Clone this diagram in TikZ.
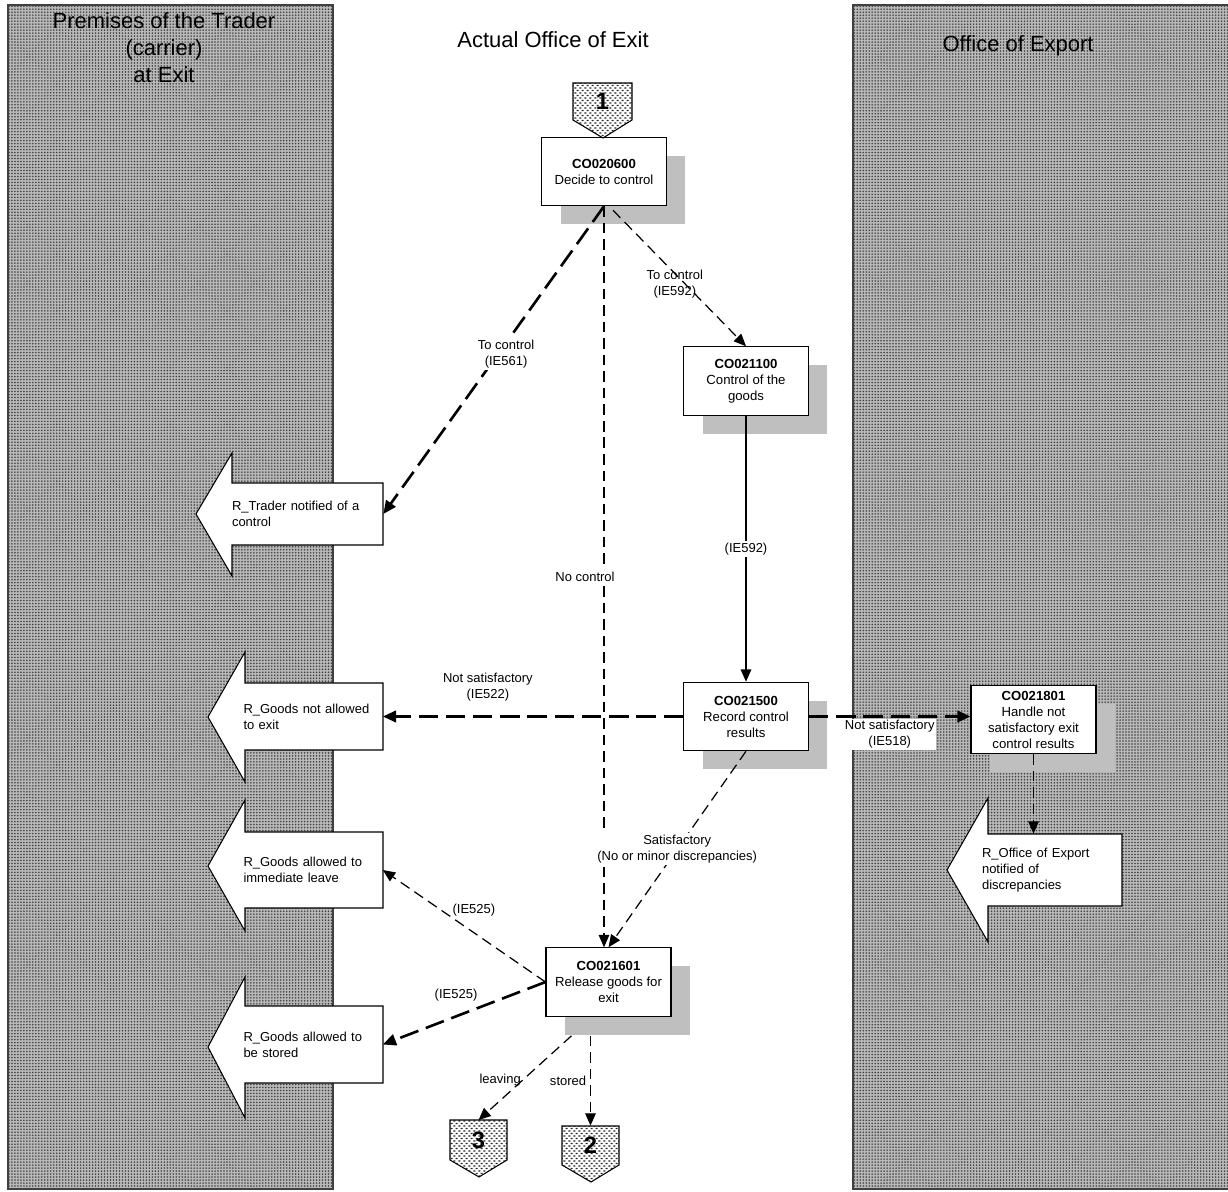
\documentclass[tikz,border=0pt]{standalone}
\usepackage{fontspec}
\setmainfont{Liberation Sans}
\usetikzlibrary{positioning,calc,arrows.meta,patterns,shadows}

\pgfdeclarepatternformonly{lanedots}{\pgfqpoint{-0.85pt}{-0.85pt}}{\pgfqpoint{0.85pt}{0.85pt}}{\pgfqpoint{1.7pt}{1.7pt}}{%
  \pgfpathcircle{\pgfpointorigin}{0.5pt}\pgfusepath{fill}}
\pgfdeclarepatternformonly{brickdots}{\pgfqpoint{0pt}{0pt}}{\pgfqpoint{3pt}{3pt}}{\pgfqpoint{3pt}{3pt}}{%
  \pgfpathrectangle{\pgfqpoint{0.2pt}{0.3pt}}{\pgfqpoint{1.3pt}{0.8pt}}%
  \pgfpathrectangle{\pgfqpoint{1.7pt}{1.8pt}}{\pgfqpoint{1.3pt}{0.8pt}}\pgfusepath{fill}}

\tikzset{
  lane/.style={draw=black!75, line width=0.8pt, preaction={fill=black!28}, pattern=lanedots, pattern color=black!75},
  lanetitle/.style={font=\fontsize{12.5}{15.3}\selectfont, align=center, inner sep=1pt},
  procbox/.style={draw, line width=0.6pt, fill=white, minimum width=2.5cm, minimum height=1.37cm,
    align=center, inner sep=1pt, font=\fontsize{7.5}{9.1}\selectfont,
    drop shadow={shadow xshift=0.38cm, shadow yshift=-0.37cm, fill=black!25, opacity=1}},
  bigarrow/.style={draw, line width=0.6pt, fill=white},
  arrowtext/.style={align=left, inner sep=0pt, font=\fontsize{7.4}{9.2}\selectfont},
  offpage/.style={draw, line width=0.6pt, preaction={fill=white}, pattern=brickdots, pattern color=black!85},
  offnum/.style={font=\fontsize{13.5}{14}\selectfont\bfseries, minimum width=1.16cm, minimum height=0.78cm, inner sep=0pt},
  flowlabel/.style={font=\fontsize{7.4}{9.1}\selectfont, align=center, inner sep=1pt},
  thinflow/.style={line width=0.7pt, dash pattern=on 6pt off 3.4pt, -{Triangle[length=7pt,width=6pt]}},
  thickflow/.style={line width=1.5pt, dash pattern=on 11pt off 4.5pt, -{Triangle[length=7.5pt,width=6.5pt]}},
  solidflow/.style={line width=0.7pt, -{Triangle[length=7pt,width=6pt]}},
}

\begin{document}
\begin{tikzpicture}[x=0.02cm, y=-0.02cm]
\useasboundingbox (0,0) rectangle (1228,1192);

% swim lanes
\draw[lane] (8,5) rectangle (333,1189);
\draw[lane] (853,5) rectangle (1240,1189);
\node[lanetitle] (ttrader) at (164,48) {Premises of the Trader\\(carrier)\\at Exit};
\node[lanetitle] (texit) at (553,40) {Actual Office of Exit};
\node[lanetitle] (texport) at (1018,46) {Office of Export};

% process boxes
\node[procbox] (c600) at (604,171.5) {\textbf{CO020600}\\Decide to control};
\node[procbox] (c1100) at (746,381) {\textbf{CO021100}\\Control of the\\goods};
\node[procbox] (c1500) at (746,716.5) {\textbf{CO021500}\\Record control\\results};
\node[procbox] (c1801) at (1033.5,719.5) {\textbf{CO021801}\\Handle not\\satisfactory exit\\control results};
\node[procbox] (c1601) at (608.5,982) {\textbf{CO021601}\\Release goods for\\exit};

% result arrows
\draw[bigarrow] (383,483) -- (232,483) -- (232,453) -- (196,514) -- (232,576) -- (232,545) -- (383,545) -- cycle;
\node[arrowtext, text width=3.02cm, minimum height=1.24cm] (rtrader) at (307.5,514) {R\_Trader notified of a\\control};
\draw[bigarrow] (383,683) -- (245,683) -- (245,652) -- (208,717) -- (245,782) -- (245,750) -- (383,750) -- cycle;
\node[arrowtext, text width=2.78cm, minimum height=1.34cm] (rgoodsno) at (313,716.5) {R\_Goods not allowed\\to exit};
\draw[bigarrow] (383,832) -- (245,832) -- (245,800) -- (208,866) -- (245,931) -- (245,908) -- (383,908) -- cycle;
\node[arrowtext, text width=2.78cm, minimum height=1.52cm] (rgoodslv) at (313,870) {R\_Goods allowed to\\immediate leave};
\draw[bigarrow] (383,1006) -- (245,1006) -- (245,977) -- (208,1047) -- (245,1118) -- (245,1083) -- (383,1083) -- cycle;
\node[arrowtext, text width=2.78cm, minimum height=1.54cm] (rgoodsst) at (313,1044.5) {R\_Goods allowed to\\be stored};
\draw[bigarrow] (1122,834) -- (988,834) -- (988,798) -- (947,870) -- (988,942) -- (988,906) -- (1122,906) -- cycle;
\node[arrowtext, text width=2.8cm, minimum height=1.44cm] (roffice) at (1052,870) {R\_Office of Export\\notified of\\discrepancies};

% off-page connectors
\draw[offpage] (573,83) -- (632,83) -- (632,120) -- (603,138) -- (573,120) -- cycle;
\node[offnum] (conn1) at (602.5,101.5) {1};
\draw[offpage] (450,1120) -- (507,1120) -- (507,1160) -- (479,1177) -- (450,1160) -- cycle;
\node[offnum] (conn3) at (478.5,1140) {3};
\draw[offpage] (562,1126) -- (619,1126) -- (619,1165) -- (591,1182) -- (562,1165) -- cycle;
\node[offnum] (conn2) at (590.5,1145.5) {2};

% flows
\draw[thickflow] (c600.south) -- node[flowlabel, fill=white, pos=0.48, xshift=0.16cm] (l561) {To control\\(IE561)} (rtrader.east);
\draw[thinflow] ($(c600.south)+(9,4)$) -- node[flowlabel, pos=0.54, xshift=-0.2cm] (l592a) {To control\\(IE592)} (c1100.north);
\draw[thinflow] (c600.south) -- node[flowlabel, fill=white, pos=0.5, xshift=-0.38cm] (lnoctrl) {No control} (c600.south |- c1601.north);
\draw[solidflow] (c1100.south) -- node[flowlabel, fill=white] (l592b) {(IE592)} (c1500.north);
\draw[thickflow] (c1500.west) -- node[flowlabel, pos=0.65, above=0.24cm] (l522) {Not satisfactory\\(IE522)} (rgoodsno.east);
\draw[thickflow] (c1500.east) -- node[flowlabel, fill=white, pos=0.5, below=0.02cm] (l518) {Not satisfactory\\(IE518)} (c1500.east -| c1801.west);
\draw[thinflow] (c1500.south) -- node[flowlabel, fill=white, pos=0.5] (lsat) {Satisfactory\\(No or minor discrepancies)} (c1601.north);
\draw[thinflow] (c1601.west) -- node[flowlabel, pos=0.44, yshift=0.46cm] (l525a) {(IE525)} (rgoodslv.east);
\draw[thickflow] (c1601.west) -- node[flowlabel, pos=0.55, yshift=0.42cm] (l525b) {(IE525)} (rgoodsst.east);
\draw[thinflow] (c1801.south) -- (c1801.south |- roffice.north);
\coordinate (c1601sh) at ($(c1601.south)+(0,19)$);
\draw[thinflow] ($(c1601sh)+(-37,0)$) -- node[flowlabel, pos=0.52, anchor=east] (lleave) {leaving} (conn3.north);
\draw[thinflow] (c1601sh -| conn2.north) -- node[flowlabel, pos=0.5, anchor=east, xshift=-0.04cm] (lstored) {stored} (conn2.north);
\end{tikzpicture}
\end{document}
